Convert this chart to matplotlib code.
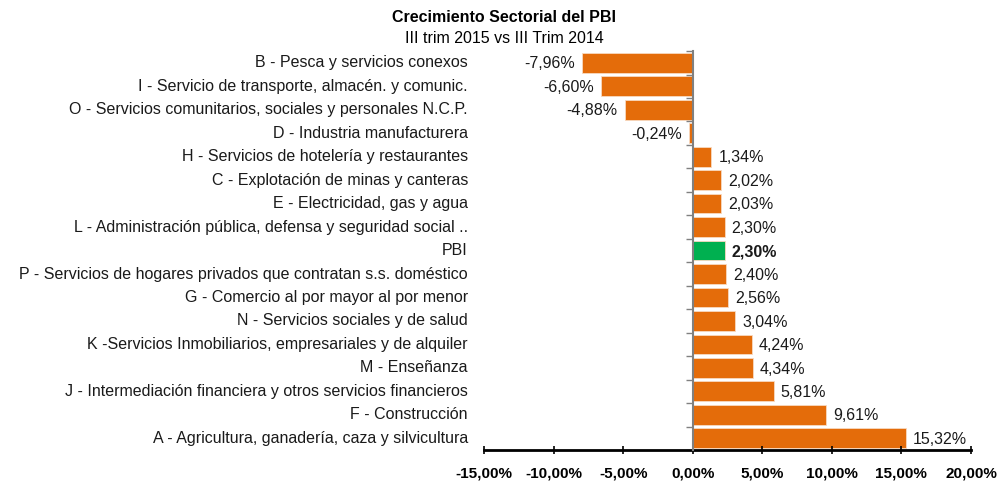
import matplotlib
matplotlib.use("Agg")
import matplotlib.pyplot as plt

plt.rcParams["font.family"] = ["Liberation Sans", "DejaVu Sans"]

# ===== 数据 =====
sectores = [
    "B - Pesca y servicios conexos",
    "I - Servicio de transporte, almacén. y comunic.",
    "O - Servicios comunitarios, sociales y personales N.C.P.",
    "D - Industria manufacturera",
    "H - Servicios de hotelería y restaurantes",
    "C - Explotación de minas y canteras",
    "E - Electricidad, gas y agua",
    "L - Administración pública, defensa y seguridad social ..",
    "PBI",
    "P - Servicios de hogares privados que contratan s.s. doméstico",
    "G - Comercio al por mayor al por menor",
    "N - Servicios sociales y de salud",
    "K -Servicios Inmobiliarios, empresariales y de alquiler",
    "M - Enseñanza",
    "J - Intermediación financiera y otros servicios financieros",
    "F - Construcción",
    "A - Agricultura, ganadería, caza y silvicultura",
]
crecimiento = [-7.96, -6.60, -4.88, -0.24, 1.34, 2.02, 2.03, 2.30, 2.30,
               2.40, 2.56, 3.04, 4.24, 4.34, 5.81, 9.61, 15.32]
xticks = [-15, -10, -5, 0, 5, 10, 15, 20]

ORANGE = "#E46C0A"
GREEN = "#00B050"


def pct(v):
    return f"{v:.2f}%".replace(".", ",")


fig = plt.figure(figsize=(10, 4.82), dpi=100)
ax = fig.add_axes([0.484, 0.0664, 0.487, 0.8276])

y = list(range(len(sectores)))
colors = [GREEN if s == "PBI" else ORANGE for s in sectores]
ax.barh(y, crecimiento, height=0.84, color=colors, edgecolor="#F8D9C0", linewidth=0.6)

ax.set_xlim(-15, 20)
ax.set_ylim(len(sectores) - 0.5, -0.5)

# 数值标注
for i, (s, v) in enumerate(zip(sectores, crecimiento)):
    off = 0.5 if v >= 0 else -0.5
    ha = "left" if v >= 0 else "right"
    ax.text(v + off, i + 0.05, pct(v), va="center", ha=ha, fontsize=11.5,
            color="#1a1a1a", fontweight="bold" if s == "PBI" else "normal")

# 类别标签 (在绘图区左侧)
for i, s in enumerate(sectores):
    ax.text(-0.033, i, s, transform=ax.get_yaxis_transform(), ha="right",
            va="center", fontsize=11.5, color="#1a1a1a")

# 轴线
ax.spines["top"].set_visible(False)
ax.spines["right"].set_visible(False)
ax.spines["left"].set_position(("data", 0))
ax.spines["left"].set_color("#808080")
ax.spines["left"].set_linewidth(1.5)
ax.spines["left"].set_zorder(3)
ax.spines["bottom"].set_color("black")
ax.spines["bottom"].set_linewidth(2)

ax.set_yticks([i + 0.5 for i in range(-1, len(sectores))])
ax.set_yticklabels([])
ax.tick_params(axis="y", length=5, width=1, color="#808080", direction="out")

ax.set_xticks(xticks)
ax.set_xticklabels([pct(t) for t in xticks], fontsize=11, fontweight="bold")
ax.tick_params(axis="x", length=6, width=1.2, direction="inout", pad=9)

fig.text(0.504, 0.963, "Crecimiento Sectorial del PBI", ha="center", va="center",
         fontsize=11.5, fontweight="bold")
fig.text(0.504, 0.921, "III trim 2015 vs III Trim 2014", ha="center", va="center",
         fontsize=11.5)

fig.savefig("out.png", dpi=100)
